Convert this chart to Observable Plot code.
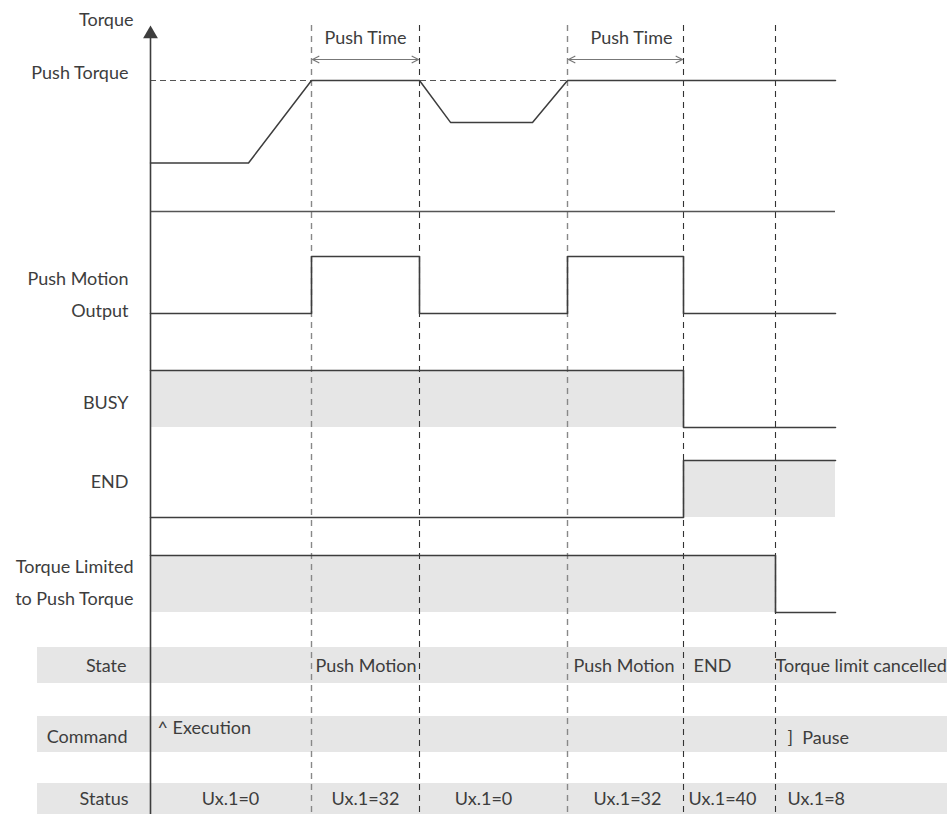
<!DOCTYPE html>
<html>
<head>
<meta charset="utf-8">
<script src="https://cdn.jsdelivr.net/npm/d3@7"></script>
<script src="https://cdn.jsdelivr.net/npm/@observablehq/plot@0.6"></script>
<style>
  body { margin: 0; background: #fff; }
  #chart { width: 947px; height: 814px; overflow: hidden; }
</style>
</head>
<body>
<div id="chart"></div>
<script>
// ---------------- DATA ----------------
// time in diagram units (0 = start of the torque axis)
const timeEnd = 685;
// torque profile (fraction of push torque)
const torqueTimes  = [0, 98, 161, 269, 300, 382, 417, 685];
const torqueLevels = [0.37, 0.37, 1, 1, 0.68, 0.68, 1, 1];
// event instants (dashed guides)
const eventTimes = [161, 269, 417, 533, 625];
// push time spans
const pushTimeStart = [161, 417];
const pushTimeEnd   = [269, 533];
const pushTimeLabel = ["Push Time", "Push Time"];
// digital signals
const pushOutTimes  = [0, 161, 269, 417, 533, 685];
const pushOutLevels = [0, 1, 0, 1, 0, 0];
const busyTimes  = [0, 533, 685];
const busyLevels = [1, 0, 0];
const endTimes   = [0, 533, 685];
const endLevels  = [0, 1, 1];
const limitTimes  = [0, 625, 685];
const limitLevels = [1, 0, 0];
// table rows
const tableRows   = ["State", "Command", "Status"];
const stateTexts  = ["Push Motion", "Push Motion", "END", "Torque limit cancelled"];
const stateTimes  = [161, 417, 533, 625];
const commandTexts = ["^ Execution", "]  Pause"];
const commandTimes = [0, 625];
const statusTexts = ["Ux.1=0", "Ux.1=32", "Ux.1=0", "Ux.1=32", "Ux.1=40", "Ux.1=8"];
const statusTimes = [80, 215, 333, 477, 533, 625];

// ---------------- LAYOUT (positions / styles) ----------------
const W = 947, H = 814;
const originX = 150;                 // pixel of time 0
const ink = "#3d3d3d", fillGray = "#e6e6e6";
const torqueLane = {base: 211, amp: 131};
const lanes = {
  push:  {base: 313, amp: 57},
  busy:  {base: 427, amp: 57},
  end:   {base: 517, amp: 57},
  limit: {base: 612, amp: 57}
};
const rowBands = {State: [647, 683], Command: [716, 752], Status: [783, 814]};
const rowTextY = {State: 666, Command: 737, Status: 799};
const rowLabelRight = {State: 126, Command: 127, Status: 128};
const eventStroke = ["#888", "#333", "#888", "#333", "#333"];
const eventWidth  = [1.4, 1.1, 1.4, 1.1, 1.1];
const stateOffset = [4, 6, 10, 0];
const commandOffset = [7, 12];
const commandY = [728, 738];
const statusLeftOffset = {4: 5, 5: 12};

const torqueY = (lv) => torqueLane.base - lv * torqueLane.amp;
const laneY = (lane, lv) => lane.base - lv * lane.amp;
const px = (p) => p - originX;   // pixel -> diagram x units

const torqueData = torqueTimes.map((t, i) => ({t, y: torqueY(torqueLevels[i])}));
function sig(times, levels, lane) {
  return times.map((t, i) => ({t, y: laneY(lane, levels[i]), y0: lane.base}));
}
const pushData  = sig(pushOutTimes, pushOutLevels, lanes.push);
const busyData  = sig(busyTimes, busyLevels, lanes.busy);
const endData   = sig(endTimes, endLevels, lanes.end);
const limitData = sig(limitTimes, limitLevels, lanes.limit);

const events = eventTimes.map((t, i) => ({t, stroke: eventStroke[i], w: eventWidth[i]}));
const pushSpans = pushTimeStart.map((s, i) => ({s, e: pushTimeEnd[i], m: (s + pushTimeEnd[i]) / 2, label: pushTimeLabel[i]}));
const pushLabelX = [365, 631];

const leftLabels = [
  {text: "Torque", y: 20, right: 133},
  {text: "Push Torque", y: 73, right: 128},
  {text: "Push Motion", y: 279, right: 128},
  {text: "Output", y: 311, right: 128},
  {text: "BUSY", y: 403, right: 128},
  {text: "END", y: 482, right: 128},
  {text: "Torque Limited", y: 567, right: 133},
  {text: "to Push Torque", y: 599, right: 133}
];

const statusItems = statusTexts.map((text, i) => ({text, t: statusTimes[i], i}));
const statusCentered = statusItems.filter(d => !(d.i in statusLeftOffset));
const statusLeft = statusItems.filter(d => d.i in statusLeftOffset);

const tMin = -originX, tMax = W - originX;

const chart = Plot.plot({
  width: W, height: H,
  marginTop: 0, marginBottom: 0, marginLeft: 0, marginRight: 0,
  x: {domain: [tMin, tMax], range: [0, W], axis: null},
  y: {domain: [0, H], range: [0, H], axis: null},
  style: {fontFamily: "Lato, 'Open Sans', sans-serif", fontSize: "18px", background: "#fff", color: ink},
  marks: [
    // table bands
    Plot.rect(tableRows, {x1: px(37), x2: tMax, y1: d => rowBands[d][0], y2: d => rowBands[d][1], fill: fillGray}),
    // signal fills
    Plot.areaY(busyData,  {x: "t", y1: "y0", y2: "y", curve: "step-after", fill: fillGray}),
    Plot.areaY(endData,   {x: "t", y1: "y0", y2: "y", curve: "step-after", fill: fillGray}),
    Plot.areaY(limitData, {x: "t", y1: "y0", y2: "y", curve: "step-after", fill: fillGray}),
    // push torque dashed reference
    Plot.ruleY([torqueY(1)], {x1: 0, x2: pushTimeStart[1], stroke: "#555", strokeWidth: 1.2, strokeDasharray: "6,4"}),
    // event guides
    Plot.ruleX(events, {x: "t", y1: 25, y2: H, stroke: "stroke", strokeWidth: "w", strokeDasharray: "6,5"}),
    // torque baseline
    Plot.ruleY([torqueLane.base], {x1: 0, x2: timeEnd, stroke: "#555", strokeWidth: 1.4}),
    // torque curve
    Plot.line(torqueData, {x: "t", y: "y", stroke: ink, strokeWidth: 1.5}),
    // digital signals
    Plot.line(pushData,  {x: "t", y: "y", curve: "step-after", stroke: ink, strokeWidth: 1.6}),
    Plot.line(busyData,  {x: "t", y: "y", curve: "step-after", stroke: ink, strokeWidth: 1.6}),
    Plot.line(endData,   {x: "t", y: "y", curve: "step-after", stroke: ink, strokeWidth: 1.6}),
    Plot.line(limitData, {x: "t", y: "y", curve: "step-after", stroke: ink, strokeWidth: 1.6}),
    // vertical torque axis with arrow head
    Plot.ruleX([0], {y1: 34, y2: H, stroke: ink, strokeWidth: 1.6}),
    Plot.dot([0], {x: d => d, y: 33.5, symbol: "triangle", r: 5.5, fill: ink, stroke: "none"}),
    // push time double arrows (two halves from the middle outwards)
    Plot.arrow(pushSpans, {x1: "m", x2: d => d.s + 1, y1: 59, y2: 59, stroke: "#777", strokeWidth: 1.2, headLength: 9, headAngle: 55}),
    Plot.arrow(pushSpans, {x1: "m", x2: d => d.e - 1, y1: 59, y2: 59, stroke: "#777", strokeWidth: 1.2, headLength: 9, headAngle: 55}),
    Plot.text(pushSpans, {x: (d, i) => px(pushLabelX[i]), y: 38, text: "label", fill: ink}),
    // left labels
    Plot.text(leftLabels, {x: d => px(d.right), y: "y", text: "text", textAnchor: "end", fill: ink}),
    Plot.text(tableRows, {x: d => px(rowLabelRight[d]), y: d => rowTextY[d], text: d => d, textAnchor: "end", fill: ink}),
    // state texts
    Plot.text(stateTexts, {x: (d, i) => stateTimes[i] + stateOffset[i], y: 666, text: d => d, textAnchor: "start", fill: ink}),
    // command texts
    Plot.text(commandTexts, {x: (d, i) => commandTimes[i] + commandOffset[i], y: (d, i) => commandY[i], text: d => d, textAnchor: "start", fill: ink}),
    // status texts
    Plot.text(statusCentered, {x: "t", y: 799, text: "text", textAnchor: "middle", fill: ink}),
    Plot.text(statusLeft, {x: d => d.t + statusLeftOffset[d.i], y: 799, text: "text", textAnchor: "start", fill: ink})
  ]
});
document.getElementById("chart").appendChild(chart);
</script>
</body>
</html>
